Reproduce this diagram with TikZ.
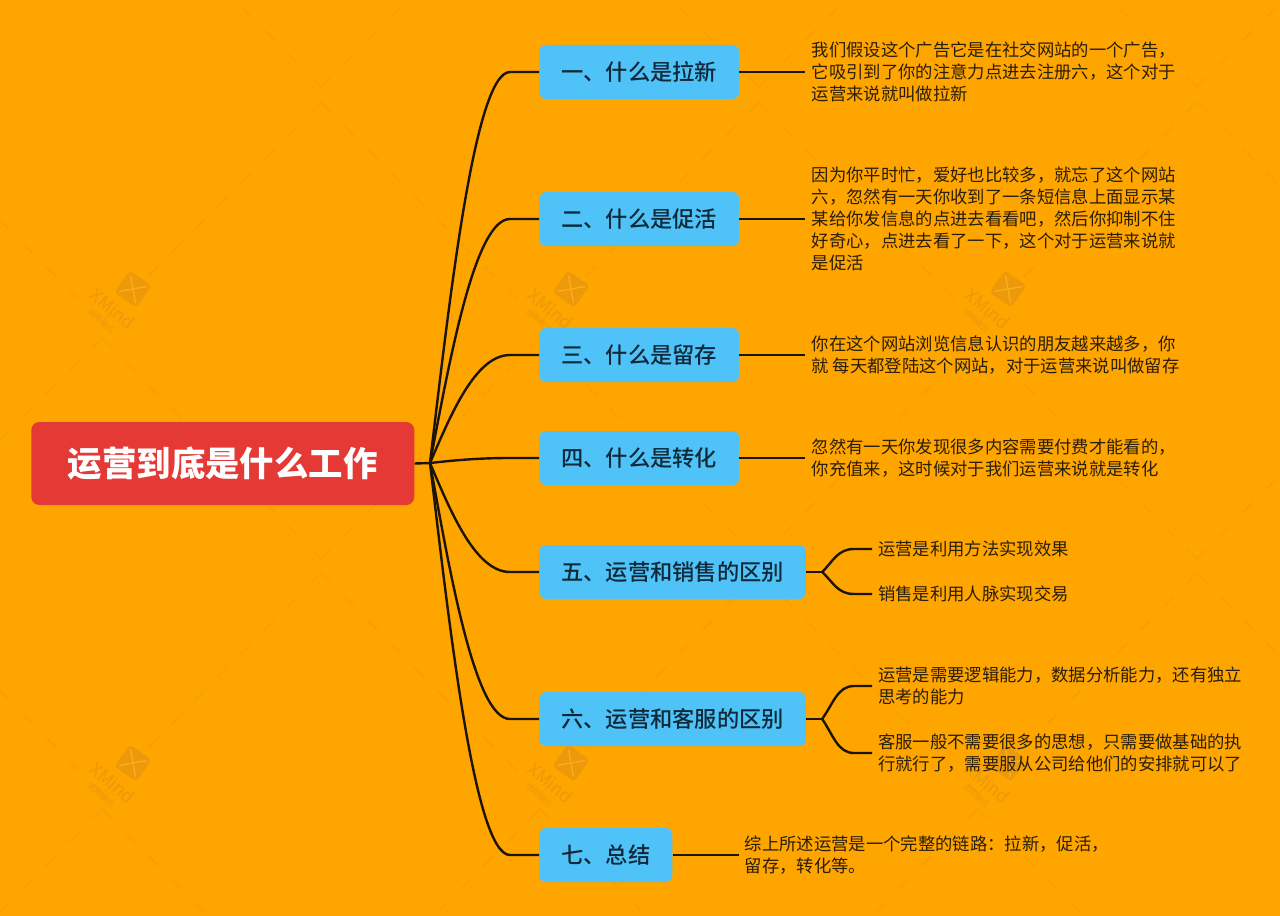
\documentclass[tikz,border=0pt]{standalone}
\usepackage{fontspec}
\setmainfont{Noto Sans CJK SC}
\newfontfamily\topicfont{Noto Sans CJK SC Medium}
\usetikzlibrary{positioning,calc}
\definecolor{bgorange}{HTML}{FFA500}
\definecolor{gridorange}{HTML}{F49E06}
\definecolor{markorange}{HTML}{EC990A}
\definecolor{marklight}{HTML}{FFAC1C}
\definecolor{rootred}{HTML}{E53935}
\definecolor{topicblue}{HTML}{4FC3F7}
\definecolor{topicink}{HTML}{10293A}
\definecolor{noteink}{HTML}{2A1E08}
\definecolor{linkink}{HTML}{1C1408}
\tikzset{
  rootbox/.style={fill=rootred,text=white,rounded corners=6pt,minimum width=287.25pt,minimum height=62.25pt,anchor=west,font=\fontsize{25.8}{30}\selectfont\bfseries},
  topicbox/.style={fill=topicblue,text=topicink,rounded corners=5pt,inner xsep=16.5pt,minimum height=40.5pt,anchor=west,font=\topicfont\fontsize{16.7}{20}\selectfont},
  notebox/.style={text=noteink,align=left,inner xsep=4.5pt,inner ysep=0pt,font=\fontsize{13}{16.5}\selectfont},
  link/.style={draw=linkink,line width=1.8pt},
  gridmark/.style={draw=gridorange,line width=.7pt,dash pattern=on 11pt off 13.75pt},
  logomark/.style={fill=markorange,rounded corners=3pt,minimum size=20pt,inner sep=0pt,rotate=55}
}
\begin{document}
\begin{tikzpicture}[x=.75pt,y=-.75pt]
  \useasboundingbox (0,0) rectangle (1280,916);
  \fill[bgorange] (0,0) rectangle (1280,916);

  \begin{scope}
    \clip (0,0) rectangle (1280,916);
    \foreach \ax/\ay in {102/-134,321/102,102/338,321/573,102/809}
      \foreach \m in {-1,...,3} {
        \draw[gridmark] ({\ax+438*\m},\ay) -- ++(219,221);
        \draw[gridmark] ({\ax+438*\m},\ay) -- ++(-219,221);
      }
    \foreach \i/\lx/\ly in {1/133/289,2/571/289,3/1008/289,4/133/763,5/571/763,6/1008/763} {
      \node[logomark] (logo\i) at (\lx,\ly) {};
      \draw[marklight,line width=1pt,shorten >=4pt,shorten <=4pt] (logo\i.north east) -- (logo\i.south west);
      \draw[marklight,line width=1pt,shorten >=4pt,shorten <=4pt] (logo\i.north west) -- (logo\i.south east);
      \node[text=markorange,rotate=-40,inner sep=0pt,font=\fontsize{13.5}{14}\selectfont] (mark\i) at (\lx-20,\ly+20) {XMind};
      \node[text=markorange,rotate=-42,inner sep=0pt,font=\fontsize{6}{7}\selectfont] (trial\i) at (\lx-32,\ly+32) {试用模式};
    }
  \end{scope}

  \node[rootbox] (root) at (31,463.5) {运营到底是什么工作};
  \coordinate (hub) at (430,463);

  \node[topicbox] (t1) at (539,72) {一、什么是拉新};
  \node[topicbox] (t2) at (539,219) {二、什么是促活};
  \node[topicbox] (t3) at (539,355) {三、什么是留存};
  \node[topicbox] (t4) at (539,458) {四、什么是转化};
  \node[topicbox] (t5) at (539,572) {五、运营和销售的区别};
  \node[topicbox] (t6) at (539,719) {六、运营和客服的区别};
  \node[topicbox] (t7) at (539,855) {七、总结};

  \node[notebox,right=49.5pt of t1] (n1) {我们假设这个广告它是在社交网站的一个广告，\\它吸引到了你的注意力点进去注册六，这个对于\\运营来说就叫做拉新};
  \node[notebox,right=49.5pt of t2] (n2) {因为你平时忙，爱好也比较多，就忘了这个网站\\六，忽然有一天你收到了一条短信息上面显示某\\某给你发信息的点进去看看吧，然后你抑制不住\\好奇心，点进去看了一下，这个对于运营来说就\\是促活};
  \node[notebox,right=49.5pt of t3] (n3) {你在这个网站浏览信息认识的朋友越来越多，你\\就 每天都登陆这个网站，对于运营来说叫做留存};
  \node[notebox,right=49.5pt of t4] (n4) {忽然有一天你发现很多内容需要付费才能看的，\\你充值来，这时候对于我们运营来说就是转化};
  \node[notebox,right=49.5pt of t7] (n7) {综上所述运营是一个完整的链路：拉新，促活，\\留存，转化等。};

  \node[notebox,anchor=west] (s1) at (872,549) {运营是利用方法实现效果};
  \node[notebox,anchor=west] (s2) at (872,594) {销售是利用人脉实现交易};
  \node[notebox,anchor=west] (s3) at (872,686) {运营是需要逻辑能力，数据分析能力，还有独立\\思考的能力};
  \node[notebox,anchor=west] (s4) at (872,753) {客服一般不需要很多的思想，只需要做基础的执\\行就行了，需要服从公司给他们的安排就可以了};

  \draw[link] (root.east) -- (hub);
  \foreach \t/\y in {t1/72,t2/219,t3/355,t4/458,t5/572,t6/719,t7/855}
    \draw[link] (hub) .. controls (450,{463+0.43*(\y-463)}) and (475,\y) .. (510,\y) -- (\t.west);

  \foreach \t/\n in {t1/n1,t2/n2,t3/n3,t4/n4,t7/n7}
    \draw[link] (\t.east) -- (\n.west);

  \coordinate[right=12pt of t5] (f5);
  \coordinate[right=12pt of t6] (f6);
  \draw[link] (t5.east) -- (f5);
  \draw[link] (t6.east) -- (f6);
  \foreach \f/\s/\y in {f5/s1/549,f5/s2/594,f6/s3/686,f6/s4/753}
    \draw[link] (\f) .. controls ($(\f)!.5!(845,\y)$) and (838,\y) .. (854,\y) -- (\s.west);
\end{tikzpicture}
\end{document}
